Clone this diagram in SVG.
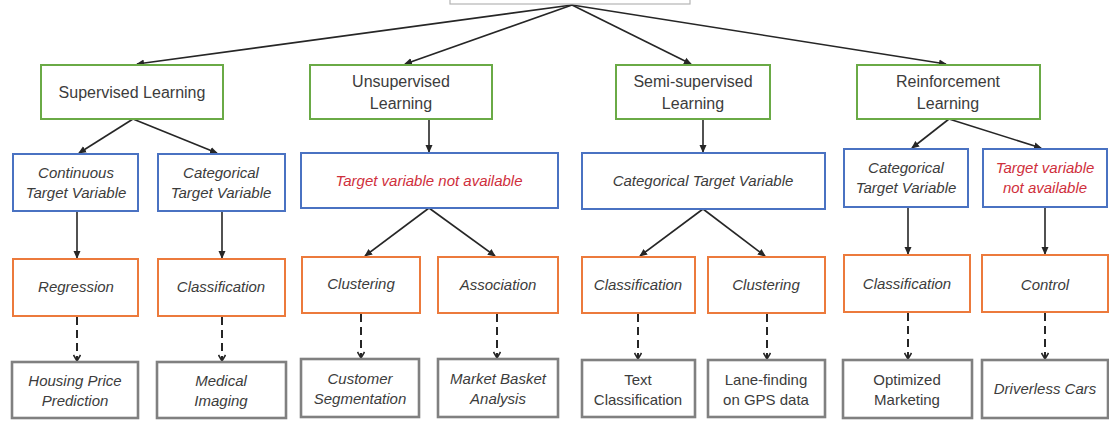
<svg xmlns="http://www.w3.org/2000/svg" width="1109" height="422" viewBox="0 0 1109 422">
  <defs>
    <marker id="tri" viewBox="0 0 8 8" refX="7" refY="4" markerWidth="8" markerHeight="8" markerUnits="userSpaceOnUse" orient="auto">
      <path d="M0,0.5 L8,4 L0,7.5 Z" fill="#262626"/>
    </marker>
    <marker id="chev" viewBox="0 0 8 8" refX="7" refY="4" markerWidth="8" markerHeight="8" markerUnits="userSpaceOnUse" orient="auto">
      <path d="M1,0.5 L7,4 L1,7.5" fill="none" stroke="#262626" stroke-width="1.6"/>
    </marker>
  </defs>
  <style>
    .bg { fill: #ffffff; }
    .root { fill: #ffffff; stroke: #b4b4b4; stroke-width: 1.2; }
    .green { fill: #ffffff; stroke: #6aaa46; stroke-width: 2; }
    .blue { fill: #ffffff; stroke: #4a72c2; stroke-width: 2; }
    .orange { fill: #ffffff; stroke: #ec7a3c; stroke-width: 2; }
    .gray { fill: #ffffff; stroke: #808080; stroke-width: 2.6; }
    text { font-family: "Liberation Sans", Arial, sans-serif; fill: #3c3c3c; text-anchor: middle; }
    .t1 { font-size: 16px; }
    .it { font-size: 15px; font-style: italic; }
    .up { font-size: 15px; }
    .red { fill: #cf2f3c; }
    .solid { stroke: #262626; stroke-width: 1.6; fill: none; marker-end: url(#tri); }
    .dash { stroke: #262626; stroke-width: 2; fill: none; stroke-dasharray: 8 5; marker-end: url(#chev); }
  </style>
  <rect class="bg" x="0" y="0" width="1109" height="422"/>

  <!-- connectors -->
  <g id="connectors">
    <!-- root to learning types -->
    <line class="solid" x1="572" y1="5" x2="137" y2="64"/>
    <line class="solid" x1="572" y1="5" x2="405" y2="64"/>
    <line class="solid" x1="572" y1="5" x2="691" y2="64"/>
    <line class="solid" x1="572" y1="5" x2="946" y2="64"/>
    <!-- learning types to target variable boxes -->
    <line class="solid" x1="133" y1="119" x2="79" y2="153"/>
    <line class="solid" x1="133" y1="119" x2="217" y2="153"/>
    <line class="solid" x1="429" y1="119" x2="429" y2="152"/>
    <line class="solid" x1="703" y1="119" x2="703" y2="152"/>
    <line class="solid" x1="949" y1="119" x2="912" y2="148"/>
    <line class="solid" x1="949" y1="119" x2="1041" y2="148"/>
    <!-- target variable boxes to tasks -->
    <line class="solid" x1="77" y1="211" x2="77" y2="258"/>
    <line class="solid" x1="222" y1="211" x2="222" y2="258"/>
    <line class="solid" x1="429" y1="208" x2="365" y2="256"/>
    <line class="solid" x1="429" y1="208" x2="495" y2="256"/>
    <line class="solid" x1="703" y1="209" x2="640" y2="256"/>
    <line class="solid" x1="703" y1="209" x2="765" y2="256"/>
    <line class="solid" x1="908" y1="207" x2="908" y2="254"/>
    <line class="solid" x1="1045" y1="207" x2="1045" y2="254"/>
    <!-- tasks to applications -->
    <line class="dash" x1="77" y1="317" x2="77" y2="361"/>
    <line class="dash" x1="222" y1="317" x2="222" y2="361"/>
    <line class="dash" x1="361" y1="314" x2="361" y2="358"/>
    <line class="dash" x1="497" y1="314" x2="497" y2="358"/>
    <line class="dash" x1="638" y1="314" x2="638" y2="359"/>
    <line class="dash" x1="767" y1="314" x2="767" y2="359"/>
    <line class="dash" x1="908" y1="313" x2="908" y2="359"/>
    <line class="dash" x1="1045" y1="313" x2="1045" y2="359"/>
  </g>

  <!-- root -->
  <g id="root">
    <rect class="root" x="450" y="-10" width="240" height="14"/>
  </g>

  <!-- learning types -->
  <g id="supervised">
    <rect class="green" x="41" y="65" width="182" height="54"/>
    <text class="t1" x="132" y="98">Supervised Learning</text>
  </g>
  <g id="unsupervised">
    <rect class="green" x="310" y="65" width="182" height="54"/>
    <text class="t1" x="401" y="87">Unsupervised</text>
    <text class="t1" x="401" y="109">Learning</text>
  </g>
  <g id="semi-supervised">
    <rect class="green" x="616" y="65" width="154" height="54"/>
    <text class="t1" x="693" y="87">Semi-supervised</text>
    <text class="t1" x="693" y="109">Learning</text>
  </g>
  <g id="reinforcement">
    <rect class="green" x="857" y="65" width="183" height="54"/>
    <text class="t1" x="948" y="87">Reinforcement</text>
    <text class="t1" x="948" y="109">Learning</text>
  </g>

  <!-- target variable boxes -->
  <g id="sup-continuous">
    <rect class="blue" x="13" y="154" width="125" height="57"/>
    <text class="it" x="76" y="178">Continuous</text>
    <text class="it" x="76" y="198">Target Variable</text>
  </g>
  <g id="sup-categorical">
    <rect class="blue" x="158" y="154" width="127" height="57"/>
    <text class="it" x="221" y="178">Categorical</text>
    <text class="it" x="221" y="198">Target Variable</text>
  </g>
  <g id="unsup-target">
    <rect class="blue" x="301" y="153" width="257" height="55"/>
    <text class="it red" x="429" y="186">Target variable not available</text>
  </g>
  <g id="semi-target">
    <rect class="blue" x="582" y="153" width="243" height="56"/>
    <text class="it" x="703" y="186">Categorical Target Variable</text>
  </g>
  <g id="rl-categorical">
    <rect class="blue" x="844" y="149" width="124" height="58"/>
    <text class="it" x="906" y="173">Categorical</text>
    <text class="it" x="906" y="193">Target Variable</text>
  </g>
  <g id="rl-target">
    <rect class="blue" x="983" y="149" width="124" height="58"/>
    <text class="it red" x="1045" y="173">Target variable</text>
    <text class="it red" x="1045" y="193">not available</text>
  </g>

  <!-- tasks -->
  <g id="regression">
    <rect class="orange" x="13" y="259" width="125" height="57"/>
    <text class="it" x="76" y="292">Regression</text>
  </g>
  <g id="sup-classification">
    <rect class="orange" x="158" y="259" width="127" height="57"/>
    <text class="it" x="221" y="292">Classification</text>
  </g>
  <g id="unsup-clustering">
    <rect class="orange" x="302" y="257" width="118" height="56"/>
    <text class="it" x="361" y="289">Clustering</text>
  </g>
  <g id="association">
    <rect class="orange" x="438" y="257" width="120" height="56"/>
    <text class="it" x="498" y="290">Association</text>
  </g>
  <g id="semi-classification">
    <rect class="orange" x="582" y="257" width="113" height="56"/>
    <text class="it" x="638" y="290">Classification</text>
  </g>
  <g id="semi-clustering">
    <rect class="orange" x="708" y="257" width="117" height="56"/>
    <text class="it" x="766" y="290">Clustering</text>
  </g>
  <g id="rl-classification">
    <rect class="orange" x="844" y="255" width="126" height="57"/>
    <text class="it" x="907" y="289">Classification</text>
  </g>
  <g id="control">
    <rect class="orange" x="982" y="255" width="126" height="57"/>
    <text class="it" x="1045" y="290">Control</text>
  </g>

  <!-- applications -->
  <g id="housing">
    <rect class="gray" x="12" y="362" width="126" height="56"/>
    <text class="it" x="75" y="386">Housing Price</text>
    <text class="it" x="75" y="406">Prediction</text>
  </g>
  <g id="medical">
    <rect class="gray" x="157" y="362" width="129" height="56"/>
    <text class="it" x="221" y="386">Medical</text>
    <text class="it" x="221" y="406">Imaging</text>
  </g>
  <g id="customer">
    <rect class="gray" x="301" y="359" width="118" height="58"/>
    <text class="it" x="360" y="384">Customer</text>
    <text class="it" x="360" y="404">Segmentation</text>
  </g>
  <g id="market-basket">
    <rect class="gray" x="438" y="359" width="120" height="58"/>
    <text class="it" x="498" y="384">Market Basket</text>
    <text class="it" x="498" y="404">Analysis</text>
  </g>
  <g id="text-classification">
    <rect class="gray" x="582" y="360" width="113" height="57"/>
    <text class="up" x="638" y="385">Text</text>
    <text class="up" x="638" y="405">Classification</text>
  </g>
  <g id="lane-finding">
    <rect class="gray" x="708" y="360" width="117" height="57"/>
    <text class="up" x="766" y="385">Lane-finding</text>
    <text class="up" x="766" y="405">on GPS data</text>
  </g>
  <g id="optimized-marketing">
    <rect class="gray" x="843" y="360" width="129" height="58"/>
    <text class="up" x="907" y="385">Optimized</text>
    <text class="up" x="907" y="405">Marketing</text>
  </g>
  <g id="driverless">
    <rect class="gray" x="982" y="360" width="126" height="58"/>
    <text class="it" x="1045" y="394">Driverless Cars</text>
  </g>
</svg>
